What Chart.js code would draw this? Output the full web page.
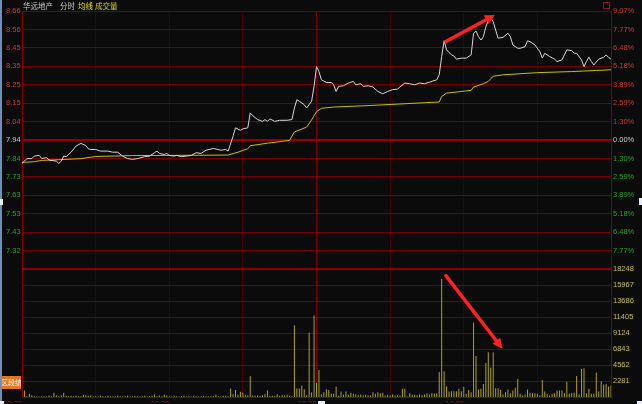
<!DOCTYPE html>
<html><head><meta charset="utf-8">
<script src="https://cdn.jsdelivr.net/npm/chart.js@4.4.1/dist/chart.umd.min.js"></script>
<style>
html,body{margin:0;padding:0;background:#0b0b0b;overflow:hidden;}
#c{position:absolute;left:0;top:0;}
</style></head><body>
<canvas id="c" width="642" height="404"></canvas>
<script>
// ---------- data ----------
const stockName = '华远地产';
const headerTabs = ['分时', '均线', '成交量'];
const buttonLabel = '区段统计';
const basePrice = 7.94;
const limitPct = 9.07;
const pctTickLevels = [9.07, 7.77, 6.48, 5.18, 3.89, 2.59, 1.30, 0, -1.30, -2.59, -3.89, -5.18, -6.48, -7.77, -9.07];
const priceTickLabels = ['8.66','8.56','8.45','8.35','8.25','8.15','8.04','7.94','7.84','7.73','7.63','7.53','7.43','7.32',''];
const pctTickLabels = ['9.07%','7.77%','6.48%','5.18%','3.89%','2.59%','1.30%','0.00%','1.30%','2.59%','3.89%','5.18%','6.48%','7.77%',''];
const volTickValues = [18248, 15967, 13686, 11405, 9124, 6843, 4562, 2281, 0];
const volTickLabels = ['18248','15967','13686','11405','9124','6843','4562','2281',''];
const timeTickMinutes = [0, 30, 60, 90, 120, 150, 180, 210, 240];
const timeTickLabels = ['09:30', '', '10:30', '', '13:00', '', '14:00', '', ''];

const priceMinutes = [0,1,2,4,5,7,8,10,11,14,
  15,16,17,18,20,22,24,26,27,28,
  30,32,35,37,39,41,43,45,47,50,
  52,54,55,56,58,59,60,62,63,65,
  67,69,71,73,75,78,81,83,84,86,
  87,89,90,92,93,94,96,98,99,100,
  101,103,105,108,110,111,112,113,115,116,
  118,119,120,121,122,124,126,127,128,129,
  131,133,135,136,138,139,141,143,145,147,
  149,151,153,154,156,158,160,162,164,166,
  169,170,171,172,173,175,176,177,179,181,
  183,184,185,186,187,188,189,190,191,192,
  193,194,196,198,199,200,202,203,205,206,
  207,209,211,212,213,215,217,218,220,221,
  222,224,225,226,228,229,230,231,232,233,
  235,237,238,239,240];
const priceValues = [7.810,7.822,7.836,7.836,7.850,7.854,7.837,7.841,7.828,7.822,
  7.809,7.822,7.850,7.847,7.872,7.906,7.921,7.909,7.891,7.887,
  7.887,7.878,7.878,7.872,7.872,7.850,7.836,7.832,7.836,7.847,
  7.850,7.869,7.878,7.865,7.859,7.865,7.854,7.850,7.854,7.847,
  7.850,7.854,7.869,7.865,7.883,7.893,7.883,7.887,7.878,7.961,
  8.008,7.994,8.002,8.008,8.091,8.076,8.054,8.044,8.054,8.044,
  8.058,8.044,8.050,8.050,8.054,8.119,8.165,8.156,8.137,8.119,
  8.156,8.239,8.350,8.322,8.276,8.261,8.261,8.248,8.211,8.239,
  8.243,8.258,8.267,8.248,8.254,8.239,8.243,8.236,8.211,8.198,
  8.211,8.221,8.224,8.236,8.258,8.254,8.248,8.258,8.254,8.263,
  8.276,8.304,8.406,8.494,8.443,8.415,8.409,8.391,8.397,8.397,
  8.415,8.536,8.548,8.517,8.498,8.517,8.572,8.606,8.624,8.600,
  8.554,8.508,8.513,8.536,8.517,8.471,8.452,8.452,8.461,8.494,
  8.489,8.471,8.433,8.397,8.424,8.406,8.391,8.378,8.387,8.415,
  8.443,8.439,8.424,8.424,8.387,8.350,8.378,8.402,8.378,8.359,
  8.391,8.402,8.415,8.402,8.391];

const avgMinutes = [0,5,8,15,24,30,45,72,84,88,92,93,100,109,111,116,118,120,122,127,141,154,167,170,171,173,183,184,188,190,192,196,210,224,240];
const avgValues = [7.815,7.819,7.826,7.830,7.836,7.848,7.853,7.855,7.856,7.872,
  7.891,7.908,7.922,7.938,7.985,8.012,8.052,8.098,8.117,8.124,
  8.132,8.141,8.150,8.152,8.183,8.202,8.217,8.236,8.254,8.267,
  8.296,8.304,8.316,8.322,8.332];

const volumes = [0,990,190,520,330,190,140,140,190,190,
  140,280,190,660,330,190,330,660,240,190,
  240,190,240,190,190,380,330,240,280,140,
  190,140,240,190,140,240,190,140,190,240,
  190,140,190,240,140,190,240,190,140,190,
  240,140,190,240,420,190,280,190,380,280,
  190,140,240,190,140,190,240,140,190,140,
  240,190,140,190,240,190,140,190,190,380,
  190,140,240,240,190,1270,470,1080,380,800,
  710,380,330,3070,280,240,280,240,330,470,
  990,240,240,240,470,240,330,280,380,240,
  190,10270,1270,1270,1700,1180,330,9220,710,11650,
  2080,3920,450,750,1180,1080,520,520,1510,240,
  850,380,850,380,660,520,470,330,420,330,
  380,330,280,750,520,750,610,660,280,380,
  280,420,280,330,280,1230,1230,140,610,380,
  380,330,420,330,420,610,420,610,570,570,
  3630,16830,3720,1600,850,900,900,900,1230,900,
  1510,520,1080,750,10650,5890,1130,1230,1930,4910,
  6410,4250,6410,1320,1320,1080,420,750,1130,610,
  990,1370,2640,520,280,420,1130,660,610,610,
  520,330,2500,850,520,280,520,610,990,990,
  990,610,2220,520,610,710,3070,420,4060,4150,
  610,1230,520,520,3540,850,2310,1840,1930,1560,
  1700];

// hand-drawn annotation arrows, in data coordinates [minute, value]
const priceArrow = {from: [172.7, 8.490], to: [192.7, 8.638]};
const volumeArrow = {from: [172.7, 17300], to: [195.8, 6930]};

// ---------- style ----------
const C = {
  bg: '#0b0b0b', gridH: '#740000', gridV: '#440000', gridMid: '#9a0000', border: '#820000',
  up: '#d23636', flat: '#c8c8c8', down: '#22a622', vol: '#c4c040', time: '#b41a1a',
  price: '#d6d6d6', avg: '#c8c000', bar: '#aaa222', arrow: '#ff2020'
};
Chart.defaults.font.family = '"Liberation Sans", Arial, sans-serif';
Chart.defaults.font.size = 7.5;

const ascLevels = pctTickLevels.slice().reverse();
const ascPriceLabels = priceTickLabels.slice().reverse();
const ascPctLabels = pctTickLabels.slice().reverse();
const ascVolValues = volTickValues.slice().reverse();
const ascVolLabels = volTickLabels.slice().reverse();
const levelColor = l => l > 0 ? C.up : (l < 0 ? C.down : C.flat);

function drawArrow(ctx, x1, y1, x2, y2) {
  const a = Math.atan2(y2 - y1, x2 - x1);
  const head = 10, hw = 5;
  const bx = x2 - head * Math.cos(a), by = y2 - head * Math.sin(a);
  ctx.strokeStyle = C.arrow; ctx.fillStyle = C.arrow;
  ctx.lineWidth = 3.5; ctx.lineCap = 'round';
  ctx.beginPath(); ctx.moveTo(x1, y1); ctx.lineTo(bx, by); ctx.stroke();
  ctx.beginPath(); ctx.moveTo(x2, y2);
  ctx.lineTo(bx + hw * Math.sin(a), by - hw * Math.cos(a));
  ctx.lineTo(bx - hw * Math.sin(a), by + hw * Math.cos(a));
  ctx.closePath(); ctx.fill();
}

const decor = {
  id: 'decor',
  beforeDraw(chart) {
    const ctx = chart.ctx;
    ctx.save(); ctx.fillStyle = C.bg; ctx.fillRect(0, 0, chart.width, chart.height); ctx.restore();
  },
  afterDraw(chart) {
    const ctx = chart.ctx;
    const {x, yPrice, yVol} = chart.scales;
    ctx.save();
    ctx.fillStyle = '#6f8fb8'; ctx.fillRect(0, 0, 2, chart.height);
    ctx.textBaseline = 'middle'; ctx.textAlign = 'left';
    ctx.font = '7.5px "Noto Sans CJK SC"';
    ctx.fillStyle = '#c8c8c8'; ctx.fillText(stockName, 23, 6);
    ctx.fillText(headerTabs[0], 60, 6);
    ctx.fillStyle = '#e4e400'; ctx.fillText(headerTabs[1], 78, 6);
    ctx.fillStyle = '#d4d400'; ctx.fillText(headerTabs[2], 95, 6);
    ctx.strokeStyle = '#8a1414'; ctx.lineWidth = 1; ctx.strokeRect(603.5, 2.5, 6, 6);
    ctx.fillStyle = '#e5761c'; ctx.fillRect(2, 376, 19, 13);
    ctx.save(); ctx.beginPath(); ctx.rect(2, 376, 19, 13); ctx.clip();
    ctx.fillStyle = '#ffffff'; ctx.font = '7px "Noto Sans CJK SC"'; ctx.fillText(buttonLabel, 1, 382.5);
    ctx.restore();
    ctx.fillStyle = '#e8eef8';
    ctx.fillRect(0, 199, 3, 6); ctx.fillRect(639, 198, 3, 7);
    ctx.fillRect(318, 401, 7, 3); ctx.fillRect(0, 401, 4, 3); ctx.fillRect(637, 401, 5, 3);
    drawArrow(ctx, x.getPixelForValue(priceArrow.from[0]), yPrice.getPixelForValue(priceArrow.from[1]),
                   x.getPixelForValue(priceArrow.to[0]), yPrice.getPixelForValue(priceArrow.to[1]));
    drawArrow(ctx, x.getPixelForValue(volumeArrow.from[0]), yVol.getPixelForValue(volumeArrow.from[1]),
                   x.getPixelForValue(volumeArrow.to[0]), yVol.getPixelForValue(volumeArrow.to[1]));
    ctx.restore();
  }
};

new Chart(document.getElementById('c'), {
  type: 'line',
  data: {
    datasets: [
      {label: 'price', data: priceMinutes.map((m, i) => ({x: m, y: priceValues[i]})),
       xAxisID: 'x', yAxisID: 'yPrice', borderColor: C.price, borderWidth: 1, pointRadius: 0, tension: 0},
      {label: 'avg', data: avgMinutes.map((m, i) => ({x: m, y: avgValues[i]})),
       xAxisID: 'x', yAxisID: 'yPrice', borderColor: C.avg, borderWidth: 1, pointRadius: 0, tension: 0},
      {type: 'bar', label: 'volume', data: volumes.map((v, i) => ({x: i, y: v})),
       xAxisID: 'x', yAxisID: 'yVol', backgroundColor: C.bar, borderWidth: 0, barThickness: 1, inflateAmount: 0}
    ]
  },
  options: {
    responsive: false, animation: false, devicePixelRatio: 1,
    layout: {padding: {left: 6, right: 0, top: 11, bottom: 0}},
    plugins: {legend: {display: false}, tooltip: {enabled: false}},
    scales: {
      x: {
        type: 'linear', position: 'bottom', min: 0, max: 240, offset: false, bounds: 'data',
        afterBuildTicks: s => { s.ticks = timeTickMinutes.map(v => ({value: v})); },
        afterFit: s => { s.height = 5; },
        ticks: {callback: (v, i) => timeTickLabels[i], color: C.time, align: 'end', padding: 2,
                autoSkip: false, maxRotation: 0, minRotation: 0},
        grid: {color: c => (c.index === 4 ? '#7a0000' : C.gridV), drawTicks: false, offset: false},
        border: {color: C.border, width: 1}
      },
      // left stack: boxes on the left are placed in reverse definition order
      yVolL: {
        type: 'linear', position: 'left', stack: 'L', stackWeight: 129, min: 0, max: 18248,
        afterFit: s => { s.width = 16; },
        ticks: {display: false}, grid: {display: false}, border: {color: C.border}
      },
      yPrice: {
        type: 'linear', position: 'left', stack: 'L', stackWeight: 259, bounds: 'data',
        min: basePrice * (1 - limitPct / 100), max: basePrice * (1 + limitPct / 100),
        afterBuildTicks: s => { s.ticks = ascLevels.map(l => ({value: basePrice * (1 + l / 100)})); },
        afterFit: s => { s.width = 16; },
        ticks: {callback: (v, i) => ascPriceLabels[i], color: c => levelColor(ascLevels[c.index]),
                crossAlign: 'far', autoSkip: false, padding: 0},
        grid: {color: c => (ascLevels[c.index] === 0 ? C.gridMid : C.gridH),
               lineWidth: c => (ascLevels[c.index] === 0 ? 2 : 1), drawTicks: false},
        border: {color: C.border}
      },
      yPct: {
        type: 'linear', position: 'right', stack: 'R', stackWeight: 259, bounds: 'data',
        min: -limitPct, max: limitPct,
        afterBuildTicks: s => { s.ticks = ascLevels.map(l => ({value: l})); },
        afterFit: s => { s.width = 31; },
        ticks: {callback: (v, i) => ascPctLabels[i], color: c => levelColor(ascLevels[c.index]),
                crossAlign: 'near', padding: 2, autoSkip: false},
        grid: {display: false, drawTicks: false},
        border: {color: C.border}
      },
      yVol: {
        type: 'linear', position: 'right', stack: 'R', stackWeight: 129, bounds: 'data',
        min: 0, max: 18248,
        afterBuildTicks: s => { s.ticks = ascVolValues.map(v => ({value: v})); },
        afterFit: s => { s.width = 31; },
        ticks: {callback: (v, i) => ascVolLabels[i], color: C.vol, crossAlign: 'near', padding: 2, autoSkip: false},
        grid: {color: c => (c.index === ascVolValues.length - 1 ? '#8a0000' : C.gridH),
               lineWidth: c => (c.index === ascVolValues.length - 1 ? 2 : 1), drawTicks: false},
        border: {color: C.border}
      }
    }
  },
  plugins: [decor]
});
</script>
</body></html>
